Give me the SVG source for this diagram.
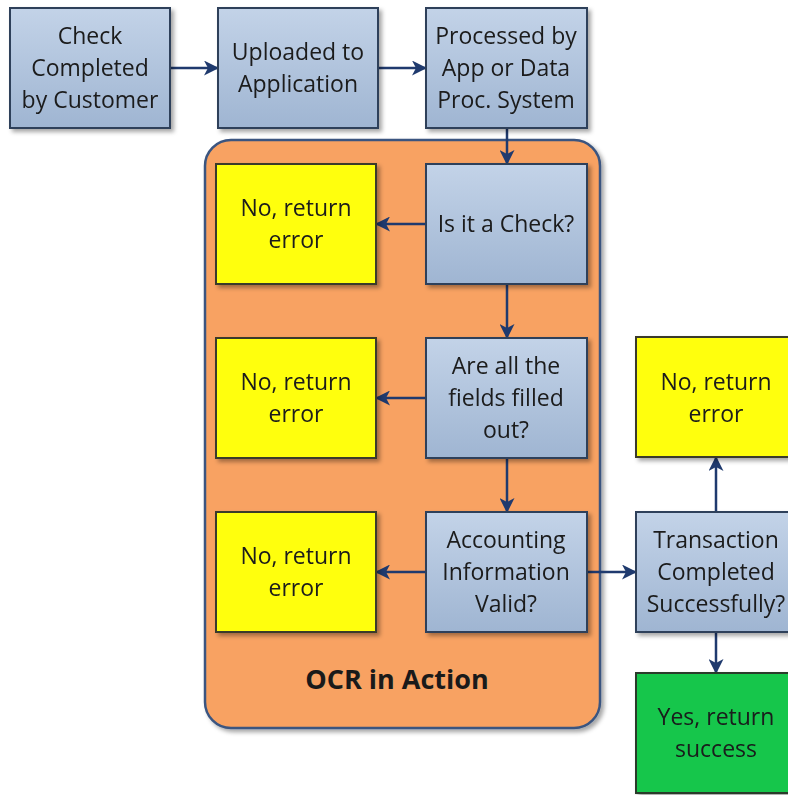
<svg xmlns="http://www.w3.org/2000/svg" width="788" height="795" viewBox="0 0 788 795">
<style>
text{font-family:"Open Sans","Liberation Sans",sans-serif;font-size:23px;fill:#1a1a1a;text-anchor:middle}
.blue{fill:url(#gb);stroke:#2f3f5a;stroke-width:2}
.yel{fill:#ffff10;stroke:#3a3a2a;stroke-width:2}
.grn{fill:#16c64c;stroke:#2a3a2a;stroke-width:2}
.con{stroke:#1f3a6e;stroke-width:2.5;fill:none;marker-end:url(#ah)}
</style>
<defs>
<linearGradient id="gb" x1="0" y1="0" x2="0" y2="1">
<stop offset="0" stop-color="#c3d3e8"/>
<stop offset="1" stop-color="#9fb5d2"/>
</linearGradient>
<filter id="sh" x="-10%" y="-10%" width="130%" height="130%">
<feDropShadow dx="3" dy="3" stdDeviation="2" flood-color="#000" flood-opacity="0.35"/>
</filter>
<marker id="ah" markerWidth="15" markerHeight="15" refX="13" refY="7.5" orient="auto" markerUnits="userSpaceOnUse" viewBox="0 0 15 15">
<path d="M0,0 L15,7.5 L0,15 L4,7.5 Z" fill="#1f3a6e"/>
</marker>
</defs>
<rect width="788" height="795" fill="#fff"/>
<g id="ocr-container">
<rect x="205" y="140" width="395" height="588" rx="26" fill="#f8a262" stroke="#3a5580" stroke-width="2.5" filter="url(#sh)"/>
<text x="397" y="689" style="font-weight:bold;font-size:27px">OCR in Action</text>
</g>
<g id="connectors">
<path class="con" d="M170,68 H217"/>
<path class="con" d="M378,68 H425"/>
<path class="con" d="M507,128 V163"/>
<path class="con" d="M426,224 H377"/>
<path class="con" d="M507,284 V337"/>
<path class="con" d="M426,398 H377"/>
<path class="con" d="M507,458 V511"/>
<path class="con" d="M426,572 H377"/>
<path class="con" d="M587,572 H635"/>
<path class="con" d="M716,512 V458"/>
<path class="con" d="M716,632 V672"/>
</g>
<g id="n1" filter="url(#sh)"><rect class="blue" x="10" y="8" width="160" height="120"/>
<text x="90" y="44">Check</text><text x="90" y="76">Completed</text><text x="90" y="108">by Customer</text></g>
<g id="n2" filter="url(#sh)"><rect class="blue" x="218" y="8" width="160" height="120"/>
<text x="298" y="60">Uploaded to</text><text x="298" y="92">Application</text></g>
<g id="n3" filter="url(#sh)"><rect class="blue" x="426" y="8" width="161" height="120"/>
<text x="506" y="44">Processed by</text><text x="506" y="76">App or Data</text><text x="506" y="108">Proc. System</text></g>
<g id="q1" filter="url(#sh)"><rect class="blue" x="426" y="164" width="161" height="120"/>
<text x="506" y="232">Is it a Check?</text></g>
<g id="e1" filter="url(#sh)"><rect class="yel" x="216" y="164" width="160" height="120"/>
<text x="296" y="216">No, return</text><text x="296" y="248">error</text></g>
<g id="q2" filter="url(#sh)"><rect class="blue" x="426" y="338" width="161" height="120"/>
<text x="506" y="374">Are all the</text><text x="506" y="406">fields filled</text><text x="506" y="438">out?</text></g>
<g id="e2" filter="url(#sh)"><rect class="yel" x="216" y="338" width="160" height="120"/>
<text x="296" y="390">No, return</text><text x="296" y="422">error</text></g>
<g id="q3" filter="url(#sh)"><rect class="blue" x="426" y="512" width="161" height="120"/>
<text x="506" y="548">Accounting</text><text x="506" y="580">Information</text><text x="506" y="612">Valid?</text></g>
<g id="e3" filter="url(#sh)"><rect class="yel" x="216" y="512" width="160" height="120"/>
<text x="296" y="564">No, return</text><text x="296" y="596">error</text></g>
<g id="t" filter="url(#sh)"><rect class="blue" x="636" y="512" width="162" height="120"/>
<text x="716" y="548">Transaction</text><text x="716" y="580">Completed</text><text x="716" y="612">Successfully?</text></g>
<g id="e4" filter="url(#sh)"><rect class="yel" x="636" y="337" width="162" height="120"/>
<text x="716" y="390">No, return</text><text x="716" y="422">error</text></g>
<g id="s" filter="url(#sh)"><rect class="grn" x="636" y="673" width="162" height="120"/>
<text x="716" y="725">Yes, return</text><text x="716" y="757">success</text></g>
</svg>
